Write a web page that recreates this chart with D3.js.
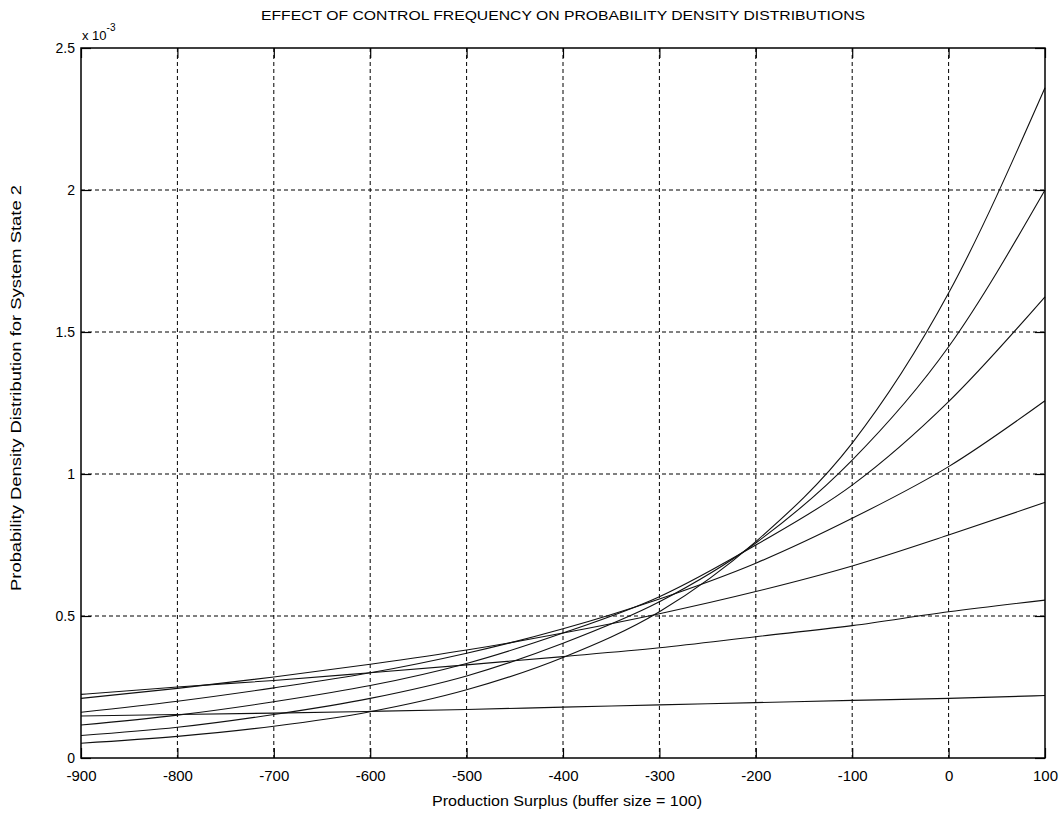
<!DOCTYPE html>
<html>
<head>
<meta charset="utf-8">
<script src="https://cdn.jsdelivr.net/npm/d3@7"></script>
<style>
body { margin: 0; background: #fff; }
text { font-family: "Liberation Sans", Arial, sans-serif; fill: #000; }
</style>
</head>
<body>
<script>
var chartTitle = "EFFECT OF CONTROL FREQUENCY ON PROBABILITY DENSITY DISTRIBUTIONS"
var xLabel = "Production Surplus (buffer size = 100)"
var yLabel = "Probability Density Distribution for System State 2"

var surplus = [-900, -800, -700, -600, -500, -400, -300, -200, -100, 0, 100]

// density values (x 10^-3), steepest curve first
var curve1 = [0.052, 0.076, 0.112, 0.163, 0.240, 0.354, 0.515, 0.762, 1.109, 1.637, 2.360]
var curve2 = [0.079, 0.108, 0.153, 0.210, 0.289, 0.404, 0.550, 0.757, 1.049, 1.448, 2.000]
var curve3 = [0.116, 0.151, 0.198, 0.255, 0.333, 0.440, 0.568, 0.750, 0.961, 1.255, 1.624]
var curve4 = [0.161, 0.200, 0.247, 0.300, 0.369, 0.455, 0.560, 0.686, 0.844, 1.026, 1.258]
var curve5 = [0.210, 0.245, 0.285, 0.330, 0.380, 0.440, 0.508, 0.586, 0.676, 0.785, 0.900]
var curve6 = [0.224, 0.250, 0.273, 0.300, 0.328, 0.357, 0.388, 0.427, 0.466, 0.515, 0.556]
var curve7 = [0.148, 0.153, 0.158, 0.164, 0.171, 0.179, 0.187, 0.195, 0.203, 0.210, 0.220]

var xTicks = [-900, -800, -700, -600, -500, -400, -300, -200, -100, 0, 100]
var yTicks = [0, 0.5, 1, 1.5, 2, 2.5]

var width = 1060, height = 823
var plotLeft = 81, plotRight = 1045, plotTop = 48, plotBottom = 758
var tickLen = 10

var svg = d3.select("body").append("svg")
			.attr("width", width)
			.attr("height", height)

var x = d3.scaleLinear().domain([-900, 100]).range([plotLeft, plotRight])
var y = d3.scaleLinear().domain([0, 2.5]).range([plotBottom, plotTop])

// dashed grid
svg.selectAll(".vgrid").data(xTicks.slice(1, -1)).enter().append("line")
	.attr("class", "vgrid")
	.attr("x1", d => x(d)).attr("x2", d => x(d))
	.attr("y1", plotTop).attr("y2", plotBottom)
	.attr("stroke", "#000").attr("stroke-width", 1)
	.attr("stroke-dasharray", "4,3")
svg.selectAll(".hgrid").data(yTicks.slice(1, -1)).enter().append("line")
	.attr("class", "hgrid")
	.attr("x1", plotLeft).attr("x2", plotRight)
	.attr("y1", d => y(d)).attr("y2", d => y(d))
	.attr("stroke", "#000").attr("stroke-width", 1)
	.attr("stroke-dasharray", "4,3")

// curves
var line = d3.line()
			.x((d, i) => x(surplus[i]))
			.y(d => y(d))
			.curve(d3.curveMonotoneX)

var curves = [curve1, curve2, curve3, curve4, curve5, curve6, curve7]
svg.selectAll(".curve").data(curves).enter().append("path")
	.attr("class", "curve")
	.attr("d", line)
	.attr("fill", "none")
	.attr("stroke", "#111")
	.attr("stroke-width", 1.1)

// inner ticks on all four sides (matlab style)
var bottomAxis = d3.axisBottom(x).tickValues(xTicks).tickSizeInner(-tickLen).tickSizeOuter(0).tickPadding(12).tickFormat(d => String(d))
var topAxis = d3.axisTop(x).tickValues(xTicks).tickSizeInner(-tickLen).tickSizeOuter(0).tickFormat("")
var leftAxis = d3.axisLeft(y).tickValues(yTicks).tickSizeInner(-tickLen).tickSizeOuter(0).tickPadding(6).tickFormat(d => String(d))
var rightAxis = d3.axisRight(y).tickValues(yTicks).tickSizeInner(-tickLen).tickSizeOuter(0).tickFormat("")

var gb = svg.append("g").attr("transform", "translate(0," + plotBottom + ")").call(bottomAxis)
var gt = svg.append("g").attr("transform", "translate(0," + plotTop + ")").call(topAxis)
var gl = svg.append("g").attr("transform", "translate(" + plotLeft + ",0)").call(leftAxis)
var gr = svg.append("g").attr("transform", "translate(" + plotRight + ",0)").call(rightAxis)

svg.selectAll(".domain").remove()
svg.selectAll(".tick line").attr("stroke", "#000").attr("stroke-width", 1.2)

gb.selectAll("text").attr("font-size", 15).attr("font-family", "Liberation Sans, Arial, sans-serif")
gl.selectAll("text").attr("font-size", 14).attr("font-family", "Liberation Sans, Arial, sans-serif")

// frame
svg.append("rect")
	.attr("x", plotLeft).attr("y", plotTop)
	.attr("width", plotRight - plotLeft).attr("height", plotBottom - plotTop)
	.attr("fill", "none").attr("stroke", "#000").attr("stroke-width", 1.5)

// exponent note
var expo = svg.append("text").attr("x", plotLeft + 1).attr("y", 40).attr("font-size", 13)
expo.append("tspan").text("x 10")
expo.append("tspan").attr("dy", -9).attr("font-size", 10).text("-3")

svg.append("text")
	.attr("x", (plotLeft + plotRight) / 2).attr("y", 20)
	.attr("text-anchor", "middle")
	.attr("font-size", 13)
	.attr("textLength", 604).attr("lengthAdjust", "spacingAndGlyphs")
	.text(chartTitle)

svg.append("text")
	.attr("x", 567).attr("y", 806)
	.attr("text-anchor", "middle")
	.attr("font-size", 14)
	.attr("textLength", 270).attr("lengthAdjust", "spacingAndGlyphs")
	.text(xLabel)

svg.append("text")
	.attr("transform", "translate(21," + 388 + ") rotate(-90)")
	.attr("text-anchor", "middle")
	.attr("font-size", 14)
	.attr("textLength", 406).attr("lengthAdjust", "spacingAndGlyphs")
	.text(yLabel)
</script>
</body>
</html>
